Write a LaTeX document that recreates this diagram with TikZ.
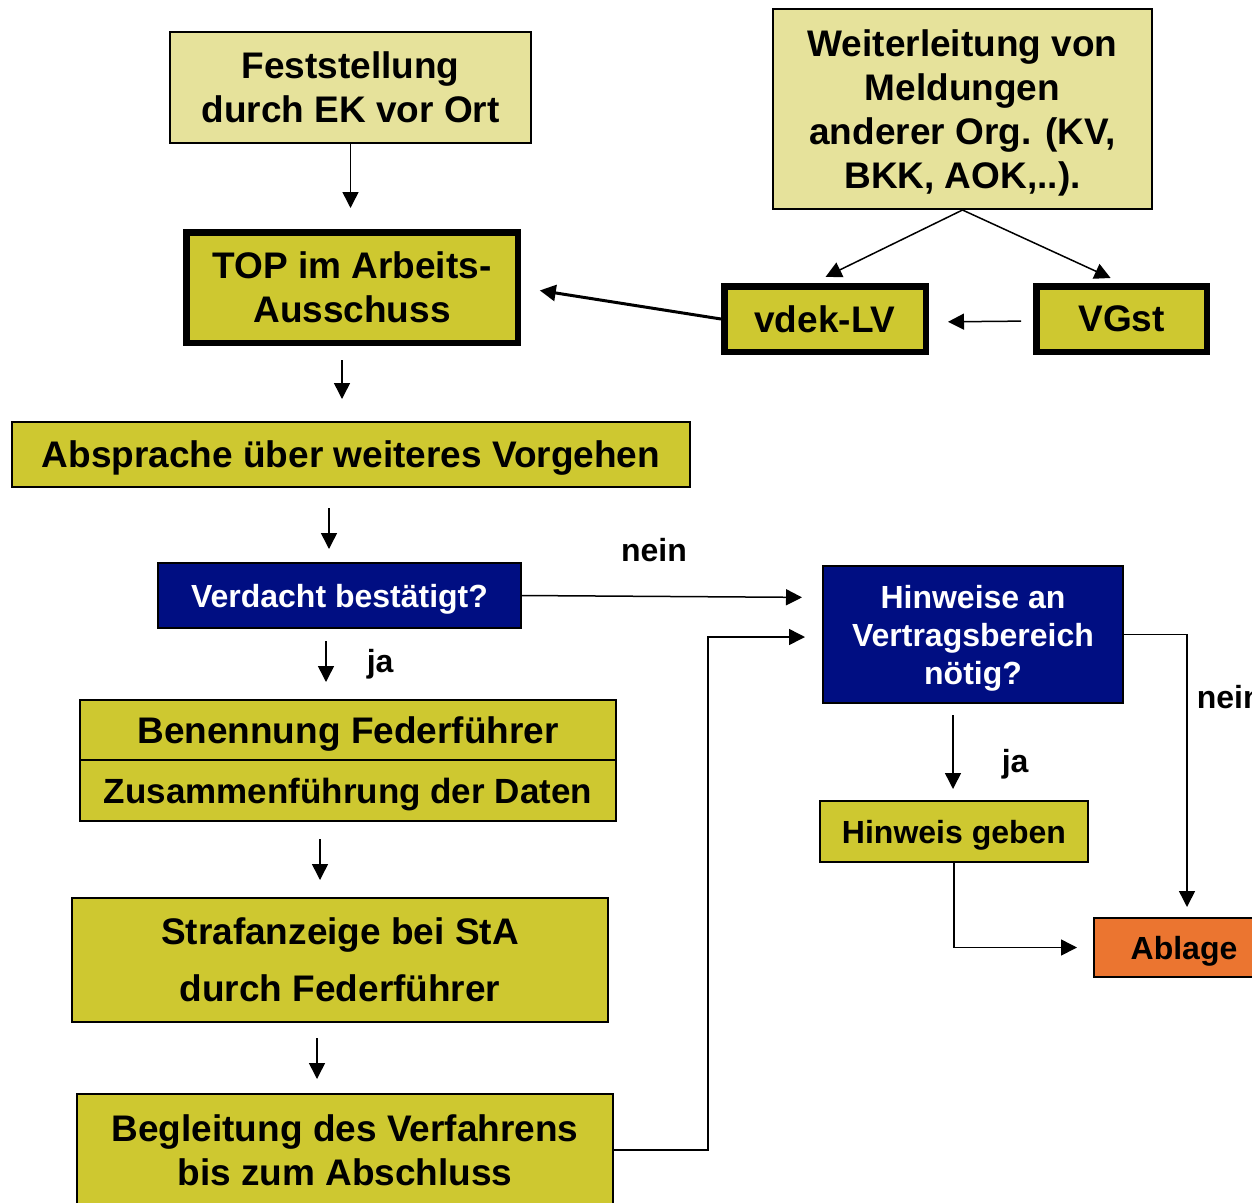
\documentclass[tikz,border=0pt]{standalone}
\usepackage{fontspec}
\setmainfont{Liberation Sans}
\usetikzlibrary{arrows.meta}
\definecolor{paleyel}{RGB}{230,226,155}
\definecolor{boxolive}{RGB}{206,200,48}
\definecolor{boxblue}{RGB}{0,14,130}
\definecolor{boxorange}{RGB}{235,117,48}
\newcommand{\bigfont}{\fontsize{37}{44}\selectfont\bfseries}
\newcommand{\midfont}{\fontsize{32}{38}\selectfont\bfseries}

\begin{document}
\begin{tikzpicture}[x=1pt,y=-1pt]
        \tikzstyle{every node} = [font=\bigfont, align=center, inner sep=0pt]
        \tikzstyle{low} = [text depth=0pt]
        \tikzstyle{pale} = [draw=black, line width=2pt, fill=paleyel]
        \tikzstyle{olivebox} = [draw=black, line width=2pt, fill=boxolive]
        \tikzstyle{heavy} = [draw=black, line width=6.5pt, fill=boxolive]
        \tikzstyle{query} = [draw=black, line width=2pt, fill=boxblue, text=white, font=\midfont, low]
        \tikzstyle{arr} = [-{Triangle[length=16pt,width=16pt]}, line width=1.5pt]
        \tikzstyle{lbl} = [font=\midfont]
        \useasboundingbox (0,0) rectangle (1252,1202);
            \begin{scope}
                \node[pale, minimum width=361pt, minimum height=111pt] (fest) at (350.5,87.5) {Feststellung\\durch EK vor Ort};
                \node[pale, low, minimum width=379pt, minimum height=200pt] (weiter) at (962.5,109) {Weiterleitung von\\Meldungen\\anderer Org. (KV,\\BKK, AOK,..).};

                \node[heavy, minimum width=331.5pt, minimum height=110.5pt] (top) at (352,287.5) {TOP im Arbeits-\\Ausschuss};
                \node[heavy, low, minimum width=201.5pt, minimum height=65.5pt] (vdek) at (825,319) {vdek-LV};
                \node[heavy, low, minimum width=170.5pt, minimum height=65.5pt] (vgst) at (1121.5,319) {VGst};

                \node[olivebox, low, minimum width=678pt, minimum height=65pt] (abs) at (351,454.5) {Absprache über weiteres Vorgehen};
                \node[query, minimum width=363pt, minimum height=65pt] (verd) at (339.5,595.5) {Verdacht bestätigt?};

                \node[olivebox, low, minimum width=536pt, minimum height=60pt] (ben) at (348,730) {Benennung Federführer};
                \node[olivebox, low, minimum width=536pt, minimum height=61pt, font=\fontsize{35}{42}\selectfont\bfseries] (zus) at (348,790.5) {Zusammenführung der Daten};
                \node[olivebox, minimum width=536pt, minimum height=124pt] (straf) at (340,960) {Strafanzeige bei StA\\[13pt]durch Federführer};
                \node[olivebox, minimum width=536pt, minimum height=112pt] (begl) at (345,1150) {Begleitung des Verfahrens\\bis zum Abschluss};

                \node[query, minimum width=300pt, minimum height=137pt] (hinw) at (973,634.5) {Hinweise an\\Vertragsbereich\\nötig?};
                \node[olivebox, low, minimum width=268pt, minimum height=61pt, font=\midfont] (hgeb) at (954,831.5) {Hinweis geben};
                \node[draw=black, line width=2pt, fill=boxorange, low, minimum width=180pt, minimum height=59pt, font=\midfont] (abl) at (1184,947.5) {Ablage};

                \draw[arr, shorten >=21pt] (fest.south) -- (fest.south |- top.north);
                \draw[arr, shorten >=14pt] (weiter.south) -- ([xshift=-12pt]vdek.north);
                \draw[arr, shorten >=12pt] (weiter.south) -- (vgst.north);
                \draw[arr, line width=3pt, shorten >=19pt] (vdek.west) -- (top.east);
                \draw[arr, shorten <=12pt, shorten >=19pt] ([yshift=-2pt]vgst.west) -- ([yshift=-3pt]vdek.east);
                \draw[arr, shorten <=14pt, shorten >=22pt] ([xshift=-10pt]top.south) -- ([xshift=-9pt]abs.north);
                \draw[arr, shorten <=20pt, shorten >=13pt] ([xshift=-22pt]abs.south) -- ([xshift=-10.5pt]verd.north);
                \draw[arr, shorten <=12pt, shorten >=17pt] ([xshift=-13.5pt]verd.south) -- ([xshift=-22pt]ben.north)
                    node[lbl, midway, right=40pt] (ja1) {ja};
                \draw[arr, shorten <=17pt, shorten >=17pt] ([xshift=-28pt]zus.south) -- ([xshift=-20pt]straf.north);
                \draw[arr, shorten <=15pt, shorten >=14pt] ([xshift=-23pt]straf.south) -- ([xshift=-28pt]begl.north);
                \draw[arr, shorten >=20pt] (verd.east) -- ([yshift=37pt]hinw.west)
                    node[lbl, pos=0.44, above=34pt] (nein1) {nein};
                \draw[arr, shorten >=17pt] (begl.east) -- ++(94,0) |- ([yshift=-2.5pt]hinw.west);
                \draw[arr, shorten <=11pt, shorten >=11pt] ([xshift=-20pt]hinw.south) -- ([xshift=-1pt]hgeb.north)
                    node[lbl, pos=0.63, right=48pt] (ja2) {ja};
                \draw[arr, shorten >=10pt] (hinw.east) -| ([xshift=3pt]abl.north)
                    node[lbl, pos=0.61, right=9pt] (nein2) {nein};
                \draw[arr, shorten >=16pt] (hgeb.south) |- (abl.west);
             \end{scope}
\end{tikzpicture}
\end{document}
